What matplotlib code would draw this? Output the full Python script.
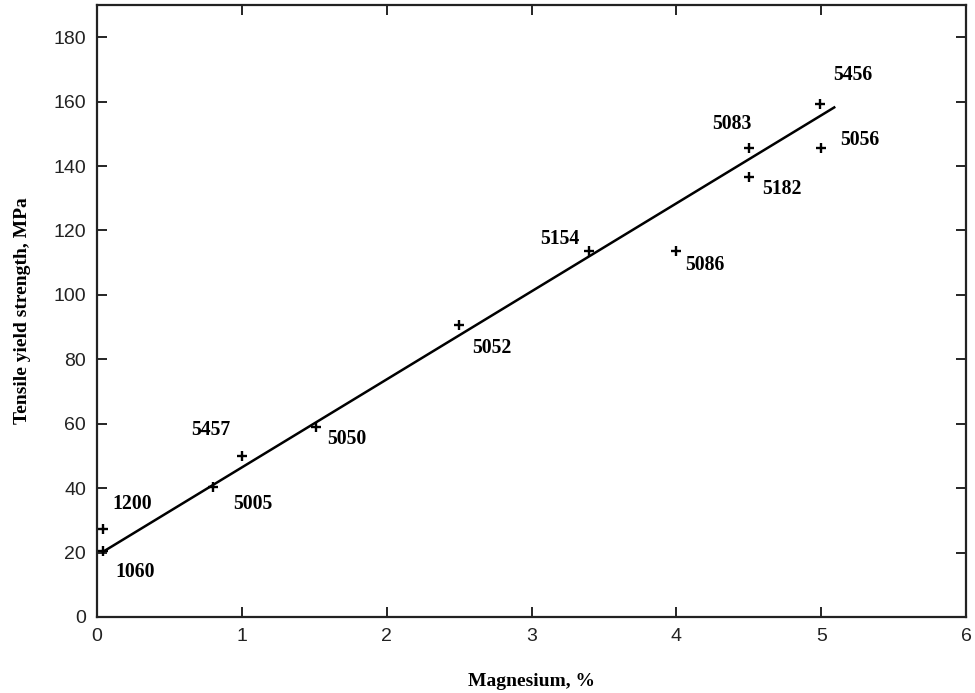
import matplotlib.pyplot as plt

# 합금 데이터 (Mg 함량 %, 인장 항복 강도 MPa)
alloys = ['1200', '1060', '5005', '5457', '5050', '5052',
          '5154', '5086', '5083', '5182', '5456', '5056']
mg_pct = [0.04, 0.04, 0.80, 1.00, 1.51, 2.50, 3.40, 4.00, 4.50, 4.50, 4.99, 5.00]
yield_mpa = [27.4, 20.6, 40.4, 50.0, 59.0, 90.5, 113.5, 113.6, 145.5, 136.5, 159.3, 145.5]

# 추세선 끝점
fit_x = [0.04, 5.09]
fit_y = [20.2, 158.2]

# 라벨 오프셋 (pixel)
label_offsets = [(29, 25), (32, -21), (40, -17), (-31, 26), (31, -12), (33, -23),
                 (-30, 12), (29, -14), (-17, 24), (33, -12), (33, 29), (39, 8)]

fig = plt.figure(figsize=(9.75, 6.93), dpi=100)
ax = fig.add_axes([0.0995, 0.1097, 0.8913, 0.8831])

ax.plot(fit_x, fit_y, color='black', lw=1.8)
ax.plot(mg_pct, yield_mpa, linestyle='none', marker='+', color='black',
        markersize=7, markeredgewidth=1.7)

for name, x, y, (dx, dy) in zip(alloys, mg_pct, yield_mpa, label_offsets):
    ax.annotate(name, (x, y), xytext=(dx * 0.72, dy * 0.72), textcoords='offset points',
                ha='center', va='center', fontsize=14.2, fontweight='bold',
                family='Liberation Serif', color='black')

ax.set_xlim(0, 6)
ax.set_ylim(0, 190)
ax.set_xticks(range(0, 7))
ax.set_yticks(range(0, 181, 20))
ax.tick_params(direction='in', length=7, width=1.2, top=True, right=True,
               labelsize=14, pad=8, labelcolor='#222222')
for lbl in ax.get_xticklabels() + ax.get_yticklabels():
    lbl.set_family('Liberation Sans')
for sp in ax.spines.values():
    sp.set_linewidth(1.6)
    sp.set_color('#222222')

ax.set_xlabel('Magnesium, %', family='Liberation Serif', fontweight='bold',
              fontsize=14, labelpad=20)
ax.set_ylabel('Tensile yield strength, MPa', family='Liberation Serif', fontweight='bold',
              fontsize=14, labelpad=16)

plt.savefig('out.png', dpi=100)
